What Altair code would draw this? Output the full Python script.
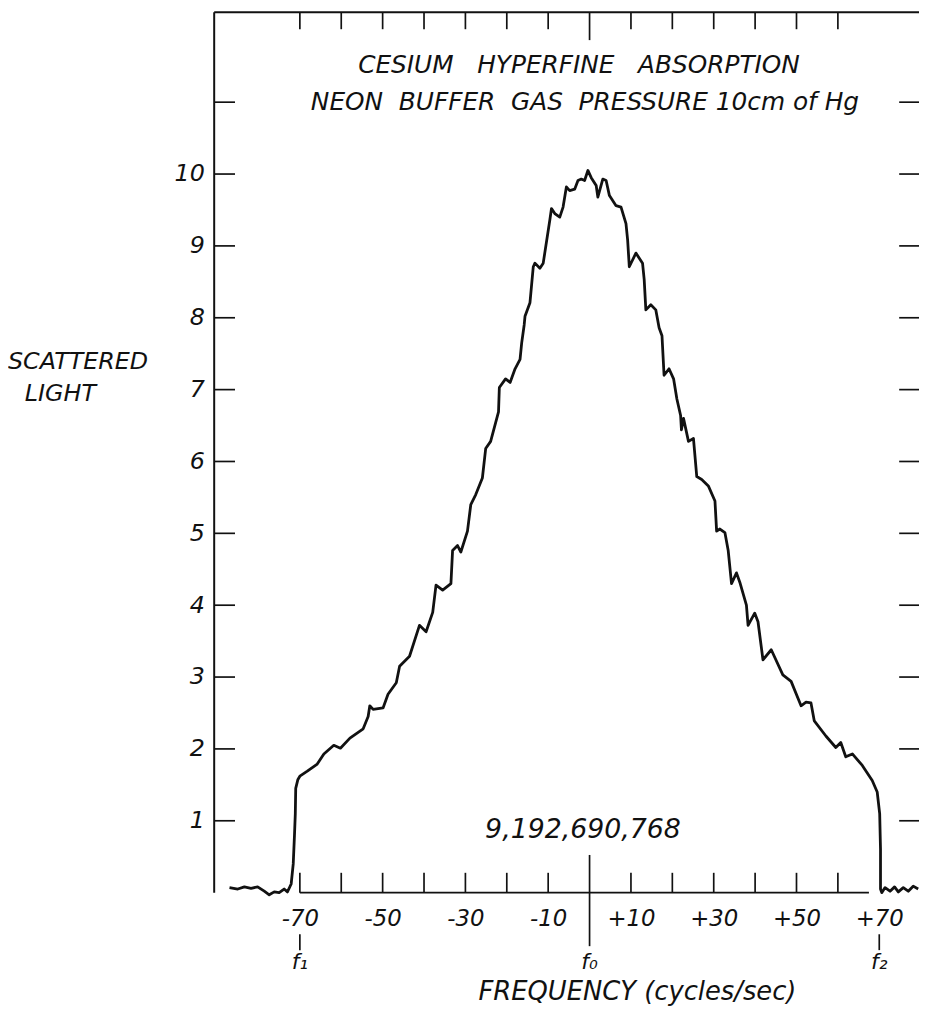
import altair as alt
import pandas as pd

# ---- curve (frequency offset in cycles/sec, scattered light) ----
freq = [-87.0, -85.0, -83.4, -81.8, -80.2, -78.6, -77.4, -76.2, -75.0, -73.8, -73.0, -72.1,
        -71.6, -71.3, -71.1, -71.0, -70.5, -70.0, -68.2, -65.8, -64.2, -61.8, -60.2, -57.9,
        -54.7, -53.5, -53.1, -52.3, -49.9, -48.7, -46.7, -45.9, -43.5, -41.1, -39.5, -37.9,
        -37.1, -35.5, -33.5, -33.1, -31.9, -31.1, -29.5, -28.7, -27.5, -25.9, -25.1, -23.9,
        -22.0, -21.8, -20.3, -19.2, -18.0, -16.8, -16.4, -15.8, -15.6, -14.4, -13.6, -13.2,
        -12.0, -11.2, -9.6, -9.2, -8.4, -7.2, -6.4, -5.6, -4.8, -3.6, -2.8, -2.0,
        -1.2, -0.4, 0.4, 1.6, 2.0, 3.2, 4.0, 4.8, 6.4, 7.6, 8.8, 9.2,
        9.6, 11.2, 12.8, 13.2, 13.6, 14.8, 16.0, 16.8, 17.5, 18.0, 19.2, 20.3,
        21.1, 22.0, 22.2, 22.7, 23.9, 25.1, 25.9, 27.1, 28.7, 30.3, 30.7, 31.5,
        32.7, 33.5, 34.3, 35.5, 36.3, 37.9, 38.3, 39.9, 40.7, 41.9, 43.9, 46.7,
        48.7, 51.1, 52.3, 53.5, 54.3, 57.1, 59.5, 60.7, 61.9, 63.5, 65.9, 68.3,
        69.5, 70.1, 70.3, 70.3, 70.6, 71.4, 72.6, 73.7, 74.6, 75.8, 77.0, 78.2, 79.4]
light = [0.07, 0.05, 0.08, 0.06, 0.08, 0.02, -0.03, 0.01, 0.00, 0.05, 0.01, 0.12,
         0.40, 0.80, 1.10, 1.45, 1.57, 1.62, 1.69, 1.79, 1.93, 2.05, 2.01, 2.15,
         2.28, 2.45, 2.60, 2.55, 2.57, 2.76, 2.92, 3.15, 3.29, 3.72, 3.63, 3.90,
         4.28, 4.21, 4.30, 4.76, 4.83, 4.74, 5.03, 5.40, 5.54, 5.77, 6.18, 6.28,
         6.69, 7.03, 7.15, 7.10, 7.29, 7.42, 7.65, 7.90, 8.02, 8.21, 8.71, 8.76,
         8.69, 8.76, 9.36, 9.52, 9.45, 9.40, 9.54, 9.82, 9.77, 9.79, 9.91, 9.93,
         9.91, 10.05, 9.95, 9.84, 9.68, 9.93, 9.91, 9.70, 9.56, 9.54, 9.31, 9.08,
         8.71, 8.90, 8.76, 8.53, 8.11, 8.18, 8.11, 7.86, 7.75, 7.20, 7.29, 7.15,
         6.87, 6.64, 6.44, 6.60, 6.28, 6.32, 5.79, 5.75, 5.66, 5.45, 5.03, 5.06,
         5.01, 4.76, 4.30, 4.45, 4.32, 4.00, 3.72, 3.89, 3.77, 3.24, 3.38, 3.03,
         2.94, 2.60, 2.65, 2.64, 2.39, 2.18, 2.02, 2.09, 1.89, 1.93, 1.77, 1.56,
         1.40, 1.10, 0.60, 0.05, 0.00, 0.07, 0.02, 0.08, 0.01, 0.07, 0.02, 0.09, 0.05]

# ---- axis values / texts ----
tick_freqs = [-70, -60, -50, -40, -30, -20, -10, 10, 20, 30, 40, 50, 60]
center_freq = [0]
label_freqs = [-70, -50, -30, -10, 10, 30, 50, 70]
level_ticks = [1, 2, 3, 4, 5, 6, 7, 8, 9, 10, 11]
level_labels = [1, 2, 3, 4, 5, 6, 7, 8, 9, 10]
marker_freqs = [-70, 0, 70]
marker_names = ["f\u2081", "f\u2080", "f\u2082"]
edge_marker_freqs = [-70, 70]
baseline_span = [-70, 67.5]
x_domain = [-90.7, 79.6]
y_domain = [0, 12.25]
NB = "\u00a0"
title_lines = ["CESIUM" + NB + NB + " HYPERFINE" + NB + NB + " ABSORPTION",
               "NEON" + NB + " BUFFER" + NB + " GAS" + NB + " PRESSURE 10cm of Hg"]
center_freq_text = "9,192,690,768"
y_title_lines = ["SCATTERED", "LIGHT"]
x_title_text = "FREQUENCY (cycles/sec)"

W, H = 711, 888
FONT = "DejaVu Sans"
INK = "#111111"

xs = alt.Scale(domain=x_domain, nice=False, zero=False)
ys = alt.Scale(domain=y_domain, nice=False, zero=False)

x_axis = alt.Axis(values=label_freqs, ticks=False, domain=False, grid=False, title=None,
                  labelExpr="datum.value > 0 ? '+' + datum.value : '-' + abs(datum.value)",
                  labelFont=FONT, labelFontStyle="italic", labelFontSize=23,
                  labelColor=INK, labelPadding=15, labelOverlap=False, labelFlush=False)
y_axis = alt.Axis(values=level_labels, ticks=False, domain=False, grid=False, title=None,
                  labelFont=FONT, labelFontStyle="italic", labelFontSize=24,
                  labelColor=INK, labelPadding=10, labelOverlap=False, labelFlush=False)


def X(field="f"):
    return alt.X(f"{field}:Q", scale=xs, axis=x_axis)


def Y(field="s"):
    return alt.Y(f"{field}:Q", scale=ys, axis=y_axis)


curve_df = pd.DataFrame({"f": freq, "s": light, "i": range(len(freq))})
curve = alt.Chart(curve_df).mark_line(color=INK, strokeWidth=2.8, strokeJoin="round").encode(
    x=X(), y=Y(), order="i:Q")

lv_df = pd.DataFrame({"s": level_ticks})
left_ticks = alt.Chart(lv_df).mark_rule(color=INK, strokeWidth=1.7).encode(
    y=Y(), x=alt.value(0), x2=alt.value(21))
right_ticks = alt.Chart(lv_df).mark_rule(color=INK, strokeWidth=1.7).encode(
    y=Y(), x=alt.value(W - 20), x2=alt.value(W))

tk_df = pd.DataFrame({"f": tick_freqs})
top_ticks = alt.Chart(tk_df).mark_rule(color=INK, strokeWidth=1.7).encode(
    x=X(), y=alt.value(0), y2=alt.value(17))
bottom_ticks = alt.Chart(tk_df).mark_rule(color=INK, strokeWidth=1.7).encode(
    x=X(), y=alt.value(H - 20), y2=alt.value(H))

c_df = pd.DataFrame({"f": center_freq})
top_center = alt.Chart(c_df).mark_rule(color=INK, strokeWidth=1.7).encode(
    x=X(), y=alt.value(0), y2=alt.value(28))
bottom_center = alt.Chart(c_df).mark_rule(color=INK, strokeWidth=1.7).encode(
    x=X(), y=alt.value(H - 38), y2=alt.value(H + 54))

e_df = pd.DataFrame({"f": edge_marker_freqs})
edge_marks = alt.Chart(e_df).mark_rule(color=INK, strokeWidth=1.7).encode(
    x=X(), y=alt.value(H + 42), y2=alt.value(H + 58))

frame_df = pd.DataFrame({"k": [0]})
left_line = alt.Chart(frame_df).mark_rule(color=INK, strokeWidth=2).encode(
    x=alt.value(0), y=alt.value(0), y2=alt.value(H))
top_line = alt.Chart(frame_df).mark_rule(color=INK, strokeWidth=2).encode(
    x=alt.value(0), x2=alt.value(W), y=alt.value(0))
base_df = pd.DataFrame({"f": [baseline_span[0]], "f2": [baseline_span[1]]})
base_line = alt.Chart(base_df).mark_rule(color=INK, strokeWidth=2).encode(
    x=X(), x2="f2:Q", y=alt.value(H))

m_df = pd.DataFrame({"f": marker_freqs, "t": marker_names})
markers = alt.Chart(m_df).mark_text(font=FONT, fontStyle="italic", fontSize=22, color=INK,
                                    baseline="middle", align="center").encode(
    x=X(), y=alt.value(H + 70), text="t:N")


def label(text, x, y, size, align="center"):
    return alt.Chart(pd.DataFrame({"t": [text]})).mark_text(
        font=FONT, fontStyle="italic", fontSize=size, color=INK, align=align,
        baseline="alphabetic").encode(x=alt.value(x), y=alt.value(y), text="t:N")


texts = [
    label(title_lines[0], 368, 61, 25),
    label(title_lines[1], 374, 98, 25),
    label(center_freq_text, 372, 833, 27),
    label(y_title_lines[0], -208, 360, 24, "left"),
    label(y_title_lines[1], -191, 392, 24, "left"),
    label(x_title_text, 427, 996, 26),
]

chart = alt.layer(
    curve, left_ticks, right_ticks, top_ticks, bottom_ticks, top_center, bottom_center,
    edge_marks, left_line, top_line, base_line, markers, *texts
).properties(
    width=W, height=H,
    autosize=alt.AutoSizeParams(type="none"),
    padding={"left": 208, "top": 0, "right": 0, "bottom": 114},
    background="white",
).configure_view(stroke=None)

chart.save("out.html", embed_options={"renderer": "svg", "actions": False})
